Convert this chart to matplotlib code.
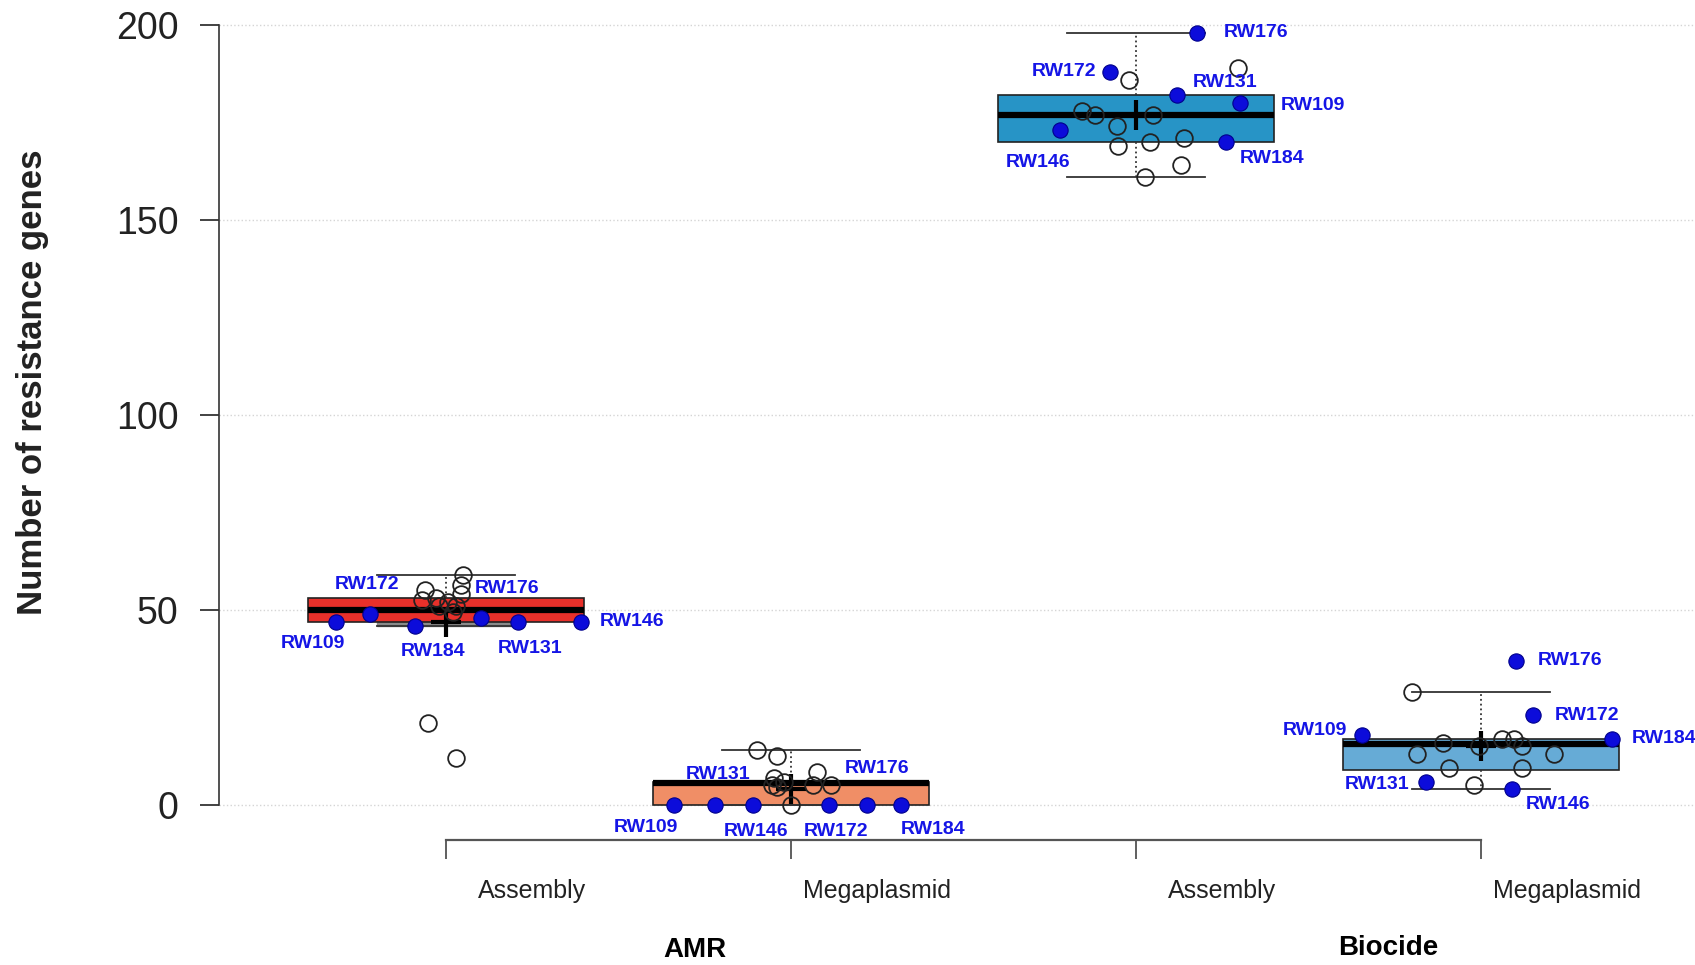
import matplotlib.pyplot as plt
import numpy as np

# categories
samples = ['RW109', 'RW131', 'RW146', 'RW172', 'RW176', 'RW184']
groups = ['AMR', 'Biocide']
sources = ['Assembly', 'Megaplasmid', 'Assembly', 'Megaplasmid']
box_colors = ['#E8302A', '#F08E66', '#2794C6', '#66ABD6']

# box summaries (one per box)
q1 = [47, 0, 170, 9]
med = [50, 5.5, 177, 15.5]
q3 = [53, 6, 182, 17]
whisk_lo = [46, 0, 161, 4]
whisk_hi = [59, 14, 198, 29]
means = [47, 4, 177, 15]

# narrow grey box behind the AMR assembly box
inner_q1 = 46
inner_q3 = 53

# highlighted isolates, same order as samples
hl_vals = [
    [47, 47, 47, 49, 48, 46],
    [0, 0, 0, 0, 0, 0],
    [180, 182, 173, 188, 198, 170],
    [18, 6, 4, 23, 37, 17],
]
hl_jit = [
    [-0.32, 0.21, 0.39, -0.22, 0.10, -0.09],
    [-0.34, -0.22, -0.11, 0.11, 0.22, 0.32],
    [0.30, 0.12, -0.22, -0.075, 0.176, 0.26],
    [-0.345, -0.16, 0.09, 0.15, 0.10, 0.38],
]

# other genomes (open circles)
other_vals = [
    [59, 55, 56.5, 54, 52.5, 51, 51, 49.5, 53, 52, 21, 12],
    [14, 12.5, 7, 8.5, 5, 5, 5, 0, 6, 4.5],
    [186, 189, 178, 177, 174, 177, 169, 170, 171, 164, 161],
    [29, 16, 13, 9.4, 17, 17, 15, 13, 9.4, 5, 15],
]
other_jit = [
    [0.05, -0.06, 0.044, 0.044, -0.07, -0.02, 0.03, 0.02, -0.03, 0.006, -0.053, 0.028],
    [-0.10, -0.04, -0.05, 0.075, 0.063, 0.116, -0.056, 0.0, -0.02, -0.04],
    [-0.02, 0.295, -0.157, -0.12, -0.056, 0.05, -0.053, 0.04, 0.14, 0.13, 0.025],
    [-0.20, -0.11, -0.185, -0.094, 0.06, 0.094, 0.12, 0.21, 0.12, -0.02, -0.006],
]

# label placement (offset points) for the isolate names
lab_off = [
    [(-16, -16), (8, -19), (37, 0), (-2, 21), (19, 21), (13, -19)],
    [(-20, -16), (2, 22), (2, -19), (5, -19), (7, 26), (23, -18)],
    [(53, -2), (34, 9), (-16, -23), (-33, 0), (43, 0), (33, -12)],
    [(-34, 3), (-35, -2), (33, -11), (39, 0), (39, 0), (37, 0)],
]

plt.rcParams['font.family'] = ['Liberation Sans', 'DejaVu Sans']

fig = plt.figure(figsize=(16.95, 9.65), dpi=100)
ax = fig.add_axes([0.1292, 0.1295, 0.8708, 0.8567])

pos = np.arange(1, 5)

# grey inner box (only its bottom edge shows)
ax.bxp([{'med': inner_q3, 'q1': inner_q1, 'q3': inner_q3,
         'whislo': inner_q1, 'whishi': inner_q3, 'fliers': []}],
       positions=[1], widths=0.4, patch_artist=True, showcaps=False,
       boxprops=dict(facecolor='#8a8a8a', edgecolor='#8a8a8a'),
       medianprops=dict(linewidth=0), whiskerprops=dict(linewidth=0),
       manage_ticks=False, zorder=1)

stats = []
for i in range(4):
    stats.append({'med': med[i], 'q1': q1[i], 'q3': q3[i], 'mean': means[i],
                  'whislo': whisk_lo[i], 'whishi': whisk_hi[i], 'fliers': []})
bp = ax.bxp(stats, positions=pos, widths=0.8, capwidths=0.4, patch_artist=True,
            showmeans=True, manage_ticks=False,
            boxprops=dict(edgecolor='#222222', linewidth=1.2),
            medianprops=dict(color='black', linewidth=4.5),
            whiskerprops=dict(color='#333333', linestyle=':', linewidth=1.3),
            capprops=dict(color='#333333', linewidth=1.3),
            meanprops=dict(marker='+', markersize=22, markeredgewidth=3,
                           markeredgecolor='black'),
            zorder=2)
for patch, c in zip(bp['boxes'], box_colors):
    patch.set_facecolor(c)

for i in range(4):
    ox = pos[i] + np.array(other_jit[i])
    ax.plot(ox, other_vals[i], 'o', ms=12, mfc='none', mec='#222222',
            mew=1.3, zorder=4)
    hx = pos[i] + np.array(hl_jit[i])
    ax.plot(hx, hl_vals[i], 'o', ms=11, mfc='#0C0CDA', mec='#00008B',
            mew=0.8, zorder=5)
    for j, s in enumerate(samples):
        ax.annotate(s, (hx[j], hl_vals[i][j]), xytext=lab_off[i][j],
                    textcoords='offset points', ha='center', va='center',
                    fontsize=14, fontweight='bold', color='#1515E6',
                    zorder=6, annotation_clip=False)

ax.set_xlim(0.342, 4.62)
ax.set_ylim(-9, 203)

ax.set_yticks([0, 50, 100, 150, 200])
ax.tick_params(axis='y', labelsize=27, length=14, width=1.2, pad=15,
               colors='#222222')
ax.yaxis.grid(True, linestyle=':', color='#d5d5d5', linewidth=1)
ax.set_axisbelow(True)

ax.set_xticks(pos)
ax.set_xticklabels([''] * 4)
ax.tick_params(axis='x', length=14, width=1.2, colors='#444444')

for sp in ['top', 'right']:
    ax.spines[sp].set_visible(False)
ax.spines['left'].set_bounds(0, 200)
ax.spines['bottom'].set_bounds(1, 4)
ax.spines['left'].set_color('#333333')
ax.spines['bottom'].set_color('#555555')
ax.spines['left'].set_linewidth(1.2)
ax.spines['bottom'].set_linewidth(1.6)

for i in range(4):
    ax.text(pos[i] + 0.25, -22, sources[i], ha='center', va='center',
            fontsize=18, color='#222222', clip_on=False)
ax.text(1.72, -37.3, groups[0], ha='center', va='center', fontsize=20,
        fontweight='bold', clip_on=False)
ax.text(3.73, -36.8, groups[1], ha='center', va='center', fontsize=20,
        fontweight='bold', clip_on=False)

fig.text(0.019, 0.604, 'Number of resistance genes', rotation=90,
         ha='center', va='center', fontsize=25, fontweight='bold',
         color='#222222')

fig.savefig('out.png', dpi=100)
